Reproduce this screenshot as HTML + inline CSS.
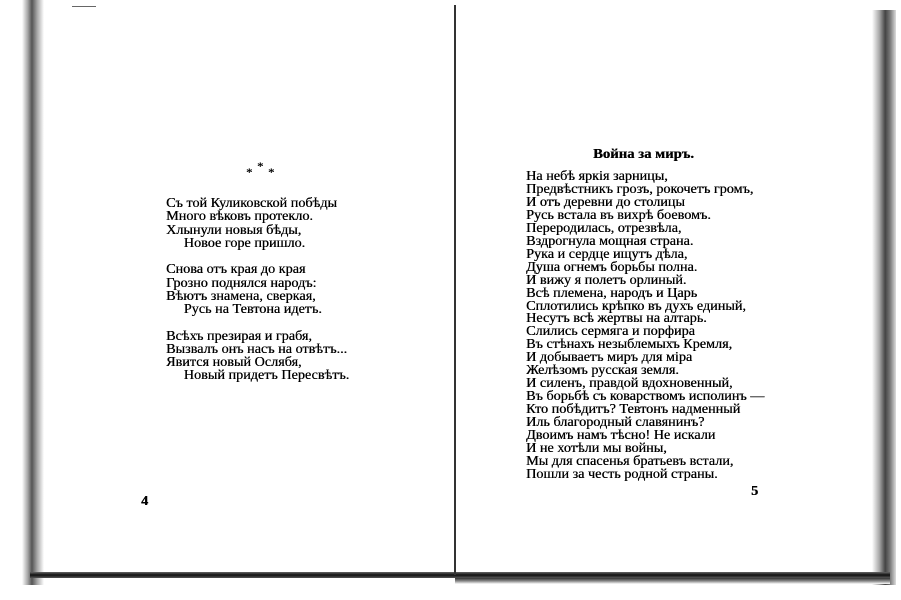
<!DOCTYPE html>
<html><head><meta charset="utf-8"><style>
html,body{margin:0;padding:0}
body{width:901px;height:600px;position:relative;overflow:hidden;background:#fff;font-family:"Liberation Serif","DejaVu Serif",serif;color:#000}
.d{position:absolute}
.t{position:absolute;font-size:13.5px;line-height:13.25px;white-space:pre;transform:scaleX(1.05);transform-origin:left top;text-shadow:0.3px 0 0 #000}
</style></head><body>
<div class="d" style="left:22px;top:0;width:22px;height:585px;background:linear-gradient(90deg,#fff 0%,#aaa 25%,#555 45%,#aaa 70%,#fff 100%)"></div>
<div class="d" style="left:872px;top:10px;width:24px;height:575px;background:linear-gradient(90deg,#fff 0%,#aaa 30%,#444 55%,#777 75%,#ddd 100%)"></div>
<div class="d" style="left:30px;top:572px;width:860px;height:6px;background:linear-gradient(180deg,#666,#111,#555)"></div>
<div class="d" style="left:455px;top:578px;width:435px;height:6px;background:linear-gradient(180deg,#333,#888,#fff)"></div>
<div class="d" style="left:454px;top:5px;width:2px;height:570px;background:#333"></div>
<div class="d" style="left:72px;top:6px;width:24px;height:1px;background:#666"></div>

<div class="t" style="left:246px;top:166px;font-size:12px">*</div>
<div class="t" style="left:257px;top:160px;font-size:12px">*</div>
<div class="t" style="left:268px;top:166px;font-size:12px">*</div>

<div class="t" style="left:166px;top:196px">Съ той Куликовской побѣды
Много вѣковъ протекло.
Хлынули новыя бѣды,
     Новое горе пришло.

Снова отъ края до края
Грозно поднялся народъ:
Вѣютъ знамена, сверкая,
     Русь на Тевтона идетъ.

Всѣхъ презирая и грабя,
Вызвалъ онъ насъ на отвѣтъ...
Явится новый Ослябя,
     Новый придетъ Пересвѣтъ.</div>

<div class="t" style="left:141px;top:494px;font-weight:bold">4</div>

<div class="t" style="left:593px;top:148px;font-weight:bold;font-size:14px">Война за миръ.</div>
<div class="t" style="left:526px;top:170px;line-height:12.95px">На небѣ яркія зарницы,
Предвѣстникъ грозъ, рокочетъ громъ,
И отъ деревни до столицы
Русь встала въ вихрѣ боевомъ.
Переродилась, отрезвѣла,
Вздрогнула мощная страна.
Рука и сердце ищутъ дѣла,
Душа огнемъ борьбы полна.
И вижу я полетъ орлиный.
Всѣ племена, народъ и Царь
Сплотились крѣпко въ духъ единый,
Несутъ всѣ жертвы на алтарь.
Слились сермяга и порфира
Въ стѣнахъ незыблемыхъ Кремля,
И добываетъ миръ для міра
Желѣзомъ русская земля.
И силенъ, правдой вдохновенный,
Въ борьбѣ съ коварствомъ исполинъ —
Кто побѣдитъ? Тевтонъ надменный
Иль благородный славянинъ?
Двоимъ намъ тѣсно! Не искали
И не хотѣли мы войны,
Мы для спасенья братьевъ встали,
Пошли за честь родной страны.</div>

<div class="t" style="left:751px;top:484px;font-weight:bold">5</div>
</body></html>
